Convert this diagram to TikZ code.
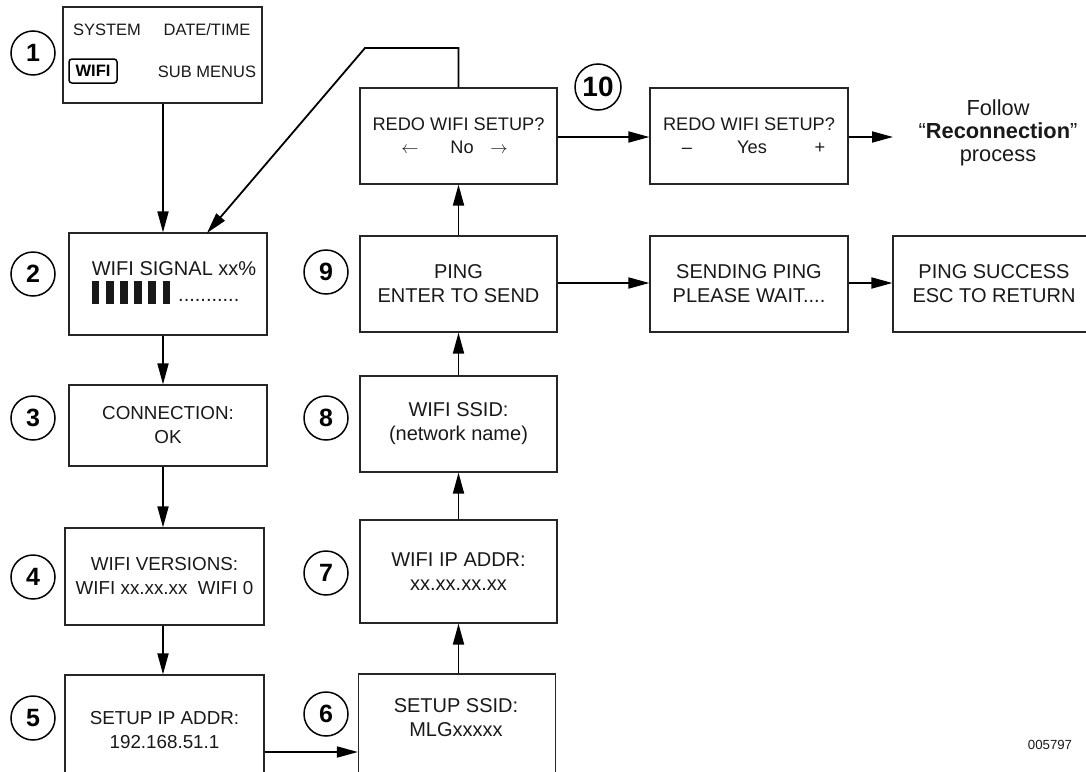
\documentclass[tikz,border=0pt]{standalone}
\usepackage{fontspec}
\setmainfont{Liberation Sans}
\usetikzlibrary{arrows.meta}
\begin{document}
\begin{tikzpicture}[x=1pt,y=-1pt,
  box/.style={draw=black!85, line width=1.2pt, align=center, inner sep=0pt,
    font=\fontsize{20}{24}\selectfont, text=black!90},
  leftbox/.style={box, font=\fontsize{18.8}{24}\selectfont},
  redo/.style={box, font=\fontsize{18.2}{23}\selectfont},
  lbl/.style={align=center, inner sep=0pt, font=\fontsize{20}{24}\selectfont, text=black!90},
  small/.style={inner sep=0pt, font=\fontsize{16.5}{20}\selectfont, text=black!90},
  arr/.style={line width=1.8pt, -{Triangle[length=21pt,width=11pt]}},
  num/.style={circle, draw, line width=1.5pt, minimum size=44pt, inner sep=0pt,
    font=\bfseries\fontsize{25}{25}\selectfont},
]
\useasboundingbox (0,0) rectangle (1086,771);
\clip (0,0) rectangle (1086,771);

% left column boxes
\node[box, minimum width=199pt, minimum height=96pt] (b1) at (162.5,55) {};
\node[small] (s1) at (107,30) {SYSTEM};
\node[small] (s2) at (207,30) {DATE/TIME};
\node[draw, line width=1.5pt, rounded corners=3pt, minimum width=48pt, minimum height=24pt,
  inner sep=0pt, font=\bfseries\fontsize{16.5}{20}\selectfont] (wifi) at (93,71) {WIFI};
\node[small] (s3) at (207,72) {SUB MENUS};

\node[box, minimum width=198pt, minimum height=102pt] (b2) at (168,284) {};
\node[lbl, anchor=base] (sig) at (174,275) {WIFI SIGNAL xx\%};
\foreach \i in {0,...,5} {
  \fill[black!90] (92+\i*14.1,281) rectangle ++(7.4,23);
}
\node[lbl, anchor=base west] (dots) at (178,301) {...........};

\node[leftbox, minimum width=198pt, minimum height=81pt] (b3) at (168,425.5) {CONNECTION:\\OK};
\node[leftbox, minimum width=199pt, minimum height=97pt] (b4) at (164.5,576.5) {WIFI VERSIONS:\\WIFI xx.xx.xx\ \ WIFI 0};
\node[leftbox, minimum width=199pt, minimum height=110pt] (b5) at (164.5,730) {SETUP IP ADDR:\\192.168.51.1};

% right column boxes
\node[box, minimum width=197pt, minimum height=140pt] (b6) at (457,744) {};
\node[lbl] (t6) at (456,717.5) {SETUP SSID:\\MLGxxxxx};
\node[box, minimum width=197pt, minimum height=103pt] (b7) at (458.5,571.5) {WIFI IP ADDR:\\xx.xx.xx.xx};
\node[box, minimum width=197pt, minimum height=96pt] (b8) at (458.5,424) {WIFI SSID:\\(network name)};
\node[box, minimum width=197pt, minimum height=96pt] (b9) at (458.5,284) {PING\\ENTER TO SEND};
\node[redo, minimum width=197pt, minimum height=96pt] (b10) at (458.5,136)
  {REDO WIFI SETUP?\\\makebox[100pt]{\makebox[0pt]{$\leftarrow$}\hspace{52pt}\makebox[0pt]{No}\hspace{37pt}\makebox[0pt]{$\rightarrow$}\hspace{8pt}}};

\node[redo, minimum width=198pt, minimum height=96pt] (b11) at (749,136)
  {REDO WIFI SETUP?\\\makebox[150pt]{\hspace{9pt}\makebox[0pt]{--}\hspace{65pt}\makebox[0pt]{Yes}\hspace{68pt}\makebox[0pt]{+}}};
\node[align=center, inner sep=0pt, font=\fontsize{21.8}{23}\selectfont, text=black!90] (fol) at (998,133)
  {Follow\\“\textbf{Reconnection}”\\process};

\node[box, minimum width=198pt, minimum height=96pt] (snd) at (749,284) {SENDING PING\\PLEASE WAIT....};
\node[box, minimum width=202pt, minimum height=96pt] (suc) at (994,284) {PING SUCCESS\\ESC TO RETURN};

% number circles
\node[num] (c1) at (33,53) {1};
\node[num] (c2) at (33,274) {2};
\node[num] (c3) at (33,418) {3};
\node[num] (c4) at (33,577) {4};
\node[num] (c5) at (33,718) {5};
\node[num] (c6) at (326,714) {6};
\node[num] (c7) at (326,573) {7};
\node[num] (c8) at (326,418) {8};
\node[num] (c9) at (326,272) {9};
\node[num, minimum size=46pt, font=\bfseries\fontsize{28}{28}\selectfont] (c10) at (598,87) {10};

\node[inner sep=0pt, font=\fontsize{13.2}{15}\selectfont, text=black!90] (code) at (1050,745) {005797};

% connectors
\coordinate (lx) at (163,0);
\draw[arr] (b1.south -| lx) -- (b2.north -| lx);
\draw[arr] (b2.south -| lx) -- (b3.north -| lx);
\draw[arr] (b3.south -| lx) -- (b4.north -| lx);
\draw[arr] (b4.south -| lx) -- (b5.north -| lx);
\coordinate (y56) at (0,752);
\draw[arr] (b5.east |- y56) -- (b6.west |- y56);
\draw[arr] (b6.north -| b7.south) -- (b7.south);
\draw[arr] (b7.north) -- (b8.south);
\draw[arr] (b8.north) -- (b9.south);
\draw[arr] (b9.north) -- (b10.north |- b10.south);
\coordinate (k1) at (458.5,48);
\coordinate (k2) at (365,48);
\coordinate (t2) at (207,233);
\draw[arr] (b10.north) -- (k1) -- (k2) -- (t2);
\coordinate (y137) at (0,137);
\draw[arr] (b10.east |- y137) -- (b11.west |- y137);
\coordinate (fx) at (893,137);
\draw[arr] (b11.east |- y137) -- (fx);
\coordinate (y283) at (0,283);
\draw[arr] (b9.east |- y283) -- (snd.west |- y283);
\draw[arr] (snd.east |- y283) -- (suc.west |- y283);
\end{tikzpicture}
\end{document}
